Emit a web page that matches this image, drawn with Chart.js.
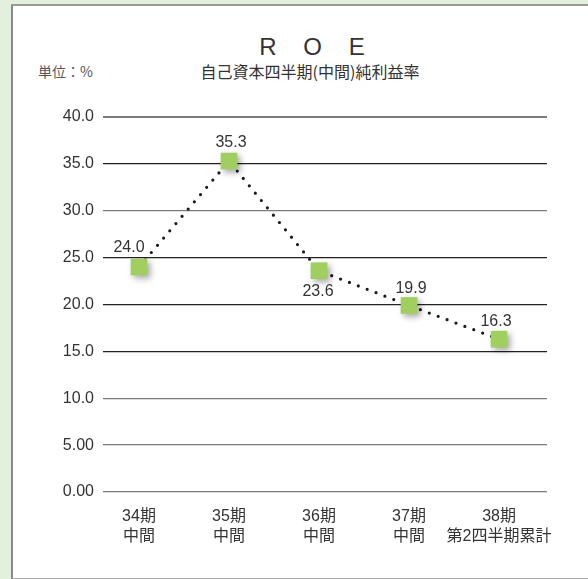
<!DOCTYPE html>
<html>
<head>
<meta charset="utf-8">
<script src="https://cdn.jsdelivr.net/npm/chart.js@4"></script>
<style>
  body { margin: 0; background: #e4f0de; width: 588px; height: 579px; overflow: hidden; position: relative; font-family: "Noto Sans CJK JP", sans-serif; }
  #panel { position: absolute; left: 11px; top: 4px; width: 600px; height: 572px; background: #fff; border-left: 2px solid #8a8a8a; border-top: 2px solid #9a9a9a; border-bottom: 2px solid #a8a8a8; }
  #chart { position: absolute; left: 0; top: 0; }
  .txt { position: absolute; color: #333; white-space: nowrap; }
  #title { left: 0; width: 634px; top: 33px; text-align: center; font-size: 24px; letter-spacing: 10px; font-family: "Liberation Sans", sans-serif; }
  #subtitle { left: 0; width: 620px; top: 59px; text-align: center; font-size: 16px; }
  #unit { left: 38px; top: 61px; font-size: 14px; color: #555; }
</style>
</head>
<body>
<div id="panel"></div>
<div class="txt" id="title">R O E</div>
<div class="txt" id="subtitle">自己資本四半期(中間)純利益率</div>
<div class="txt" id="unit">単位：%</div>
<canvas id="chart" width="588" height="579"></canvas>
<script>
// ROE chart data
const periods = ["34期", "35期", "36期", "37期", "38期"];
const periodNotes = ["中間", "中間", "中間", "中間", "第2四半期累計"];
const roeValues = [24.0, 35.3, 23.6, 19.9, 16.3];
const yTicks = [0, 5, 10, 15, 20, 25, 30, 35, 40];
const yTickLabels = ["0.00", "5.00", "10.0", "15.0", "20.0", "25.0", "30.0", "35.0", "40.0"];

// label offsets around each marker (dx, dy)
const labelOffsets = [[-10, -19], [2, -18], [-1, 21], [2, -17], [-3, -18]];

const FONT = "'Liberation Sans', 'Noto Sans CJK JP', sans-serif";

const points = roeValues.map((v, i) => ({ x: i, y: v }));

const shadowPlugin = {
  id: "markerShadow",
  beforeDatasetDraw(chart, args) {
    if (args.index !== 1) return;
    const ctx = chart.ctx;
    ctx.save();
    ctx.shadowColor = "rgba(0,0,0,0.35)";
    ctx.shadowBlur = 6;
    ctx.shadowOffsetX = 3;
    ctx.shadowOffsetY = 3;
  },
  afterDatasetDraw(chart, args) {
    if (args.index !== 1) return;
    chart.ctx.restore();
  }
};

const valueLabels = {
  id: "valueLabels",
  afterDatasetsDraw(chart) {
    const ctx = chart.ctx;
    const meta = chart.getDatasetMeta(1);
    ctx.save();
    ctx.font = "16px " + FONT;
    ctx.fillStyle = "#333";
    ctx.textAlign = "center";
    ctx.textBaseline = "middle";
    meta.data.forEach((pt, i) => {
      const [dx, dy] = labelOffsets[i];
      ctx.fillText(roeValues[i].toFixed(1), pt.x + dx, pt.y + dy);
    });
    ctx.restore();
  }
};

new Chart(document.getElementById("chart"), {
  type: "line",
  data: {
    datasets: [
      {
        data: points,
        order: 2,
        borderColor: "#1a1a1a",
        borderWidth: 3.2,
        borderDash: [0, 9.5],
        borderCapStyle: "round",
        pointRadius: 0,
        fill: false
      },
      {
        data: points,
        order: 1,
        showLine: false,
        pointStyle: "rect",
        pointRadius: 11.8,
        pointBackgroundColor: "#a0cf60",
        pointBorderWidth: 0
      }
    ]
  },
  options: {
    responsive: false,
    animation: false,
    layout: { padding: { left: 0, right: 41, top: 117, bottom: 0 } },
    plugins: { legend: { display: false }, tooltip: { enabled: false } },
    scales: {
      x: {
        type: "linear",
        min: -0.4,
        max: 4.533,
        afterBuildTicks: scale => { scale.ticks = periods.map((_, i) => ({ value: i })); },
        afterFit: scale => { scale.height = 87; },
        grid: { display: false },
        border: { display: false },
        ticks: {
          padding: 7,
          color: "#333",
          font: { family: FONT, size: 16, lineHeight: 1.25 },
          maxRotation: 0,
          autoSkip: false,
          callback: v => [periods[v], periodNotes[v]]
        }
      },
      y: {
        min: 0,
        max: 40,
        afterBuildTicks: scale => { scale.ticks = yTicks.map(v => ({ value: v })); },
        afterFit: scale => { scale.width = 103; },
        border: { display: false },
        grid: {
          drawTicks: false,
          lineWidth: ctx => (ctx.tick && ctx.tick.value === 40 ? 2 : 1.3),
          color: ctx => ([15, 20, 25, 35].includes(ctx.tick && ctx.tick.value) ? "#222" : "#7a7a7a")
        },
        ticks: {
          padding: 9,
          color: "#333",
          font: { family: FONT, size: 16 },
          callback: v => yTickLabels[yTicks.indexOf(v)]
        }
      }
    }
  },
  plugins: [shadowPlugin, valueLabels]
});
</script>
</body>
</html>
